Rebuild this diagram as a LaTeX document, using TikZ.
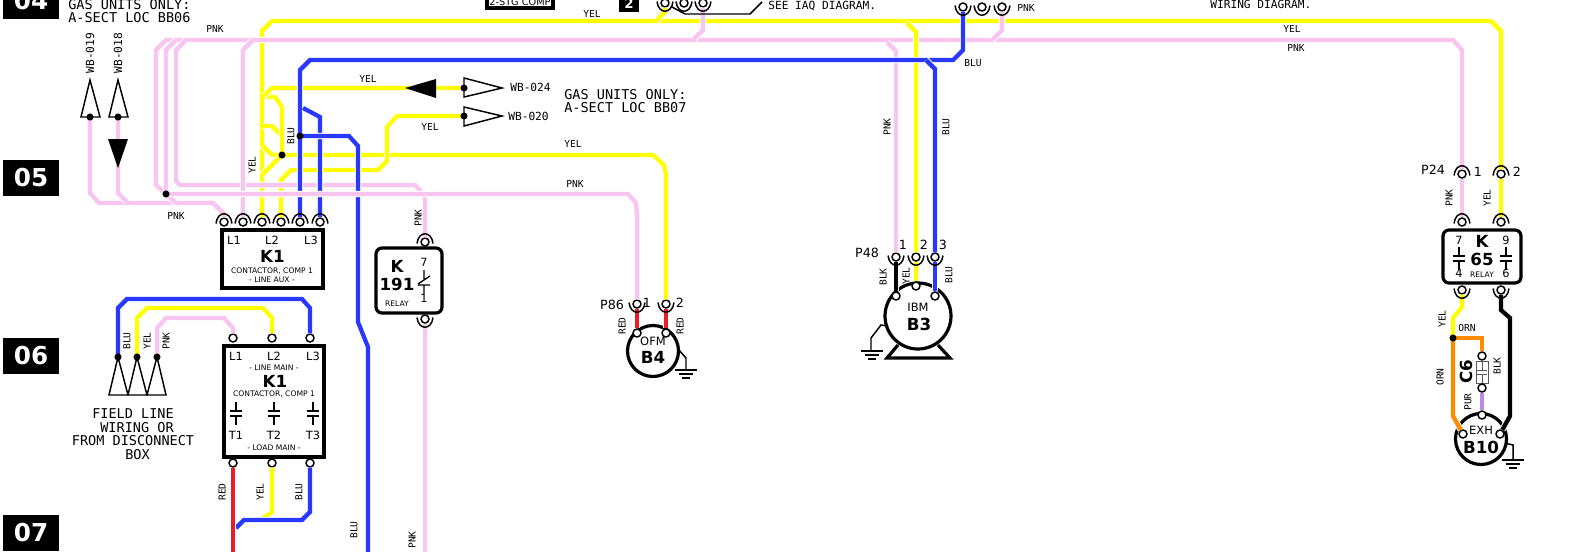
\documentclass[tikz,border=0pt]{standalone}
\usepackage{fontspec}
\setmainfont{DejaVu Sans}
\setmonofont{DejaVu Sans Mono}

\definecolor{pnkw}{RGB}{248,196,240}
\definecolor{ylww}{RGB}{255,255,0}
\definecolor{bluw}{RGB}{40,56,255}
\definecolor{redw}{RGB}{238,28,37}
\definecolor{ornw}{RGB}{255,140,0}
\definecolor{purw}{RGB}{190,135,240}

\tikzset{
  wire/.style={line width=3.2pt,miter limit=4,preaction={draw=white,line width=4.8pt}},
  term/.style={circle,draw,fill=white,line width=1.1pt,inner sep=0pt,minimum size=6pt},
  jdot/.style={circle,fill=black,inner sep=0pt,minimum size=5.3pt},
  plugline/.style={line width=1.1pt},
  tri/.style={line width=1.1pt,fill=white},
  devline/.style={line width=2.4pt},
  conline/.style={line width=1pt},
  wlab/.style={inner sep=0pt,font=\fontsize{7.2}{8}\selectfont\ttfamily},
  wlabv/.style={wlab,rotate=90},
  note/.style={inner sep=0pt,font=\fontsize{10.15}{11}\selectfont\ttfamily},
  notes/.style={inner sep=0pt,font=\fontsize{8.4}{9}\selectfont\ttfamily},
  pin/.style={inner sep=0pt,font=\fontsize{8.5}{9}\selectfont},
  plab/.style={inner sep=0pt,font=\fontsize{9.5}{10}\selectfont},
  tiny/.style={inner sep=0pt,font=\fontsize{5.7}{6}\selectfont},
  devname/.style={inner sep=0pt,font=\fontsize{12.5}{13}\selectfont\bfseries},
  motname/.style={inner sep=0pt,font=\fontsize{12.5}{13}\selectfont\bfseries},
  motlab/.style={inner sep=0pt,font=\fontsize{8.6}{9}\selectfont},
  secbox/.style={fill=black,text=white,inner sep=0pt,minimum width=42pt,minimum height=27pt,font=\fontsize{18.5}{20}\selectfont\bfseries},
}

\newcommand{\arctop}[2]{%
  \draw[plugline] (#1-8,#2+1.5) .. controls (#1-6.5,#2-11.5) and (#1+6.5,#2-11.5) .. (#1+8,#2+1.5);}
\newcommand{\arcbot}[2]{%
  \draw[plugline] (#1-8,#2-1.5) .. controls (#1-6.5,#2+11.5) and (#1+6.5,#2+11.5) .. (#1+8,#2-1.5);}
\newcommand{\gndsym}[2]{%
  \draw[plugline] (#1-11,#2) -- (#1+11,#2) (#1-7,#2+4) -- (#1+7,#2+4) (#1-4,#2+8) -- (#1+4,#2+8);}
\newcommand{\contact}[2]{%
  \draw[conline] (#1,#2-9) -- (#1,#2) (#1-6,#2) -- (#1+6,#2) (#1-6,#2+5) -- (#1+6,#2+5) (#1,#2+5) -- (#1,#2+14);}

\begin{document}
\begin{tikzpicture}[x=0.75pt,y=0.75pt,yscale=-1,xscale=1]
\useasboundingbox (0,0) rectangle (1578,551);

% Section tags
\node[secbox] (sec04) at (31,1) {04};
\node[secbox] (sec05) at (31,178) {05};
\node[secbox] (sec06) at (31,356) {06};
\node[secbox] (sec07) at (31,533) {07};

% Devices
\draw[devline] (222,230) rectangle (323,288);
\draw[devline] (224,346) rectangle (324,457);
\draw[devline,rounded corners=4.5pt] (376,248) rectangle (442,313);
\draw[devline,rounded corners=4.5pt] (1443,230) rectangle (1521,283);
\draw[devline] (653,351) circle[radius=25.5];
\draw[devline] (918,316) circle[radius=33];
\draw[devline] (1481,439) circle[radius=25.5];
\draw[devline] (898,345) -- (887,358) -- (950,358) -- (938,345);
\draw[devline] (487,-4) rectangle (553,8);
\fill (619,-2) rectangle (639,12);
\draw[devline] (949,-2) -- (1014,-2);

% Arrow shapes
\draw[tri] (90,80) -- (100,117) -- (81,117) -- cycle;
\draw[tri] (118,80) -- (128,117) -- (109,117) -- cycle;
\draw[tri] (464,78) -- (502,88) -- (464,97) -- cycle;
\draw[tri] (464,107) -- (502,116) -- (464,126) -- cycle;
\draw[tri] (118,357) -- (128,395) -- (109,395) -- cycle;
\draw[tri] (137,357) -- (147,395) -- (128,395) -- cycle;
\draw[tri] (157,357) -- (166,395) -- (147,395) -- cycle;

% Terminals
\foreach \n/\x in {a/224,b/243,c/262,d/281,e/300,f/320} {\node[term] (ka\n) at (\x,222) {};}
\foreach \n/\x in {a/665,b/684,c/703} {\node[term] (iaq\n) at (\x,3) {};}
\foreach \n/\x in {a/963,b/982,c/1002} {\node[term] (top\n) at (\x,7) {};}
\foreach \n/\x in {a/233,b/272,c/310} {
  \node[term] (kl\n) at (\x,338) {};
  \node[term] (kt\n) at (\x,463) {};
}
\node[term] (kra) at (425,242) {};
\node[term] (krb) at (425,319) {};
\node[term] (pea) at (637,304) {};
\node[term] (peb) at (666,304) {};
\node[term] (pfa) at (896,257) {};
\node[term] (pfb) at (916,257) {};
\node[term] (pfc) at (935,257) {};
\node[term] (pta) at (1462,174) {};
\node[term] (ptb) at (1501,174) {};
\node[term] (kqa) at (1462,222) {};
\node[term] (kqb) at (1501,222) {};
\node[term] (kqc) at (1462,290) {};
\node[term] (kqd) at (1501,290) {};
\node[term] (ofa) at (637,333) {};
\node[term] (ofb) at (666,333) {};
\node[term] (iba) at (896,296) {};
\node[term] (ibb) at (916,286) {};
\node[term] (ibc) at (935,296) {};
\node[term] (exa) at (1463,434) {};
\node[term] (exb) at (1482,415) {};
\node[term] (exc) at (1500,434) {};

% Junctions
\coordinate (jyl) at (282,155);
\coordinate (jbl) at (300,136);
\coordinate (jpk) at (166,194);
\coordinate (jor) at (1453,338);
\coordinate (wa) at (90,117);
\coordinate (wb) at (118,117);
\coordinate (wc) at (464,88);
\coordinate (wd) at (464,116);
\coordinate (fa) at (118,357);
\coordinate (fb) at (137,357);
\coordinate (fc) at (157,357);

% Capacitor
\draw[line width=0.7pt,draw=black!65] (1476,361) rectangle (1488,383);
\draw[line width=0.7pt,draw=black!65] (1482,361) -- (1482,370) (1477,370) -- (1487,370) (1477,374) -- (1487,374) (1482,374) -- (1482,383);
\node[term] (cpa) at (1482,356) {};
\node[term] (cpb) at (1482,388) {};

% Yellow wires
\draw[wire,ylww] (kac) -- (262,31) -- (272,21) -- (1491,21) -- (1501,31) -- (ptb);
\draw[wire,ylww] (262,126) -- (272,126) -- (282,136) -- (jyl);
\draw[wire,ylww] (262,145) -- (272,155) -- (jyl);
\draw[wire,ylww] (jyl) -- (262,175);
\draw[wire,ylww] (265,97) -- (275,97) -- (282,107) -- (jyl);
\draw[wire,ylww] (264,96) -- (272,88) -- (wc);
\draw[wire,ylww] (jyl) -- (653,155) -- (664,165) -- (666,175) -- (peb);
\draw[wire,ylww] (kad) -- (281,180) -- (291,170) -- (378,170) -- (387,161) -- (387,127) -- (397,116) -- (wd);
\draw[wire,ylww] (iaqa) -- (665,12) -- (656,21);

% Pink wires
\draw[wire,pnkw] (jpk) -- (156,185) -- (156,50) -- (166,40) -- (1453,40) -- (1462,50) -- (pta);
\draw[wire,pnkw] (jpk) -- (166,50) -- (176,40);
\draw[wire,pnkw] (iaqc) -- (703,30) -- (694,39);
\draw[wire,pnkw] (topc) -- (1002,30) -- (992,40);
\draw[wire,pnkw] (887,42) -- (896,51) -- (pfa);
\draw[wire,ylww] (907,23) -- (916,32) -- (pfb);
\draw[wire,pnkw] (wa) -- (90,193) -- (99,203) -- (213,203) -- (224,214) -- (kaa);
\draw[wire,pnkw] (wb) -- (118,193) -- (127,202);
\draw[wire,pnkw] (jpk) -- (176,203);
\draw[wire,pnkw] (kra) -- (425,196) -- (415,185) -- (180,185) -- (176,181) -- (176,50) -- (186,40);
\draw[wire,pnkw] (kab) -- (243,50) -- (253,40);

% Blue wires
\draw[wire,bluw] (kae) -- (300,70) -- (310,60) -- (953,60) -- (963,50) -- (topa);
\draw[wire,bluw] (926,60) -- (935,69) -- (pfc);
\draw[wire,bluw] (kaf) -- (320,117) -- (303,108);
\draw[wire,bluw] (jbl) -- (349,136) -- (358,146) -- (358,322) -- (368,347) -- (368,556);

% Pink over the blue
\draw[wire,pnkw] (jpk) -- (628,194) -- (636,203) -- (637,215) -- (pea);
\draw[wire,pnkw] (krb) -- (425,556);

% Field wiring
\draw[wire,bluw] (fa) -- (118,308) -- (127,299) -- (302,299) -- (310,308) -- (klc);
\draw[wire,ylww] (fb) -- (137,318) -- (147,308) -- (263,308) -- (272,318) -- (klb);
\draw[wire,pnkw] (fc) -- (157,328) -- (166,318) -- (224,318) -- (233,328) -- (kla);
\draw[wire,ylww] (ktb) -- (272,512) -- (263,518);
\draw[wire,bluw] (ktc) -- (310,512) -- (302,520) -- (244,520) -- (236,528);
\draw[wire,redw] (kta) -- (233,556);

% Motor leads
\draw[wire,redw] (pea) -- (ofa);
\draw[wire,redw] (peb) -- (ofb);
\draw[wire,black] (pfa) -- (iba);
\draw[wire,ylww] (pfb) -- (ibb);
\draw[wire,bluw] (pfc) -- (ibc);
\draw[wire,pnkw] (pta) -- (kqa);
\draw[wire,ylww] (ptb) -- (kqb);
\draw[wire,ylww] (kqc) -- (1462,307) -- (1453,318) -- (jor);
\draw[wire,ornw] (jor) -- (1482,338) -- (cpa);
\draw[wire,ornw] (jor) -- (1453,416) -- (exa);
\draw[wire,purw] (cpb) -- (exb);
\draw[wire,black] (kqd) -- (1501,310) -- (1510,318) -- (1510,416) -- (exc);

% Plug arcs
\foreach \x in {224,243,262,281,300,320} {\arctop{\x}{222}}
\foreach \x in {665,684,703} {\arcbot{\x}{3}}
\foreach \x in {963,982,1002} {\arcbot{\x}{7}}
\foreach \x in {637,666} {\arcbot{\x}{304}}
\foreach \x in {896,916,935} {\arcbot{\x}{257}}
\foreach \x in {1462,1501} {\arctop{\x}{174} \arctop{\x}{222} \arcbot{\x}{290}}
\arctop{425}{242}
\arcbot{425}{319}

% Dots
\node[jdot] (jyld) at (jyl) {};
\node[jdot] (jbld) at (jbl) {};
\node[jdot] (jpkd) at (jpk) {};
\node[jdot] (jord) at (jor) {};
\node[jdot] (wad) at (wa) {};
\node[jdot] (wbd) at (wb) {};
\node[jdot] (wcd) at (wc) {};
\node[jdot] (wdd) at (wd) {};
\node[jdot] (fad) at (fa) {};
\node[jdot] (fbd) at (fb) {};
\node[jdot] (fcd) at (fc) {};

% Black arrows
\fill (108,139) -- (128,139) -- (118,168) -- cycle;
\fill (405,88) -- (436,79) -- (436,98) -- cycle;

% IAQ bracket
\draw[plugline] (672,7) -- (685,14) -- (750,14) -- (762,2);

% Grounds
\draw[plugline] (678,349) -- (686,358) -- (686,370);
\gndsym{686}{370}
\draw[plugline] (888,326) -- (881,325) -- (871,338) -- (871,351);
\gndsym{872}{351}
\draw[plugline] (1505,443) -- (1513,445) -- (1513,460);
\gndsym{1513}{460}

% Contacts
\foreach \x in {236,274,313} {\contact{\x}{411}}
\contact{1459}{256}
\contact{1506}{256}
\draw[conline] (424,270) -- (424,279) (424,285) -- (424,294) (418,285) -- (430,285) (418,284) -- (430,276);

% Text Node
\node[note,anchor=west] (gasa) at (68,5) {GAS UNITS ONLY:};
\node[note,anchor=west] (gasb) at (68,18) {A-SECT LOC BB06};
\node[note,anchor=west] (gasc) at (564,95) {GAS UNITS ONLY:};
\node[note,anchor=west] (gasd) at (564,108) {A-SECT LOC BB07};
\node[notes,rotate=90] (wbn) at (90,53) {WB-019};
\node[notes,rotate=90] (wbm) at (118,53) {WB-018};
\node[notes,anchor=west] (wbp) at (510,87) {WB-024};
\node[notes,anchor=west] (wbq) at (508,116) {WB-020};
\node[notes,anchor=west] (seeq) at (768,6) {SEE IAQ DIAGRAM.};
\node[notes,anchor=west] (wird) at (1210,4) {WIRING DIAGRAM.};
\node[note] (fielda) at (133,414) {FIELD LINE};
\node[note] (fieldb) at (137,428) {WIRING OR};
\node[note] (fieldc) at (133,441) {FROM DISCONNECT};
\node[note] (fieldd) at (137.5,455) {BOX};

% Wire labels
\node[wlab] (l01) at (215,29) {PNK};
\node[wlab] (l02) at (176,216) {PNK};
\node[wlab] (l03) at (368,79) {YEL};
\node[wlab] (l04) at (430,127) {YEL};
\node[wlab] (l05) at (573,144) {YEL};
\node[wlab] (l06) at (575,184) {PNK};
\node[wlab] (l07) at (592,14) {YEL};
\node[wlab] (l08) at (973,63) {BLU};
\node[wlab] (l09) at (1026,8) {PNK};
\node[wlab] (l10) at (1292,29) {YEL};
\node[wlab] (l11) at (1296,48) {PNK};
\node[wlab] (l12) at (1467,328) {ORN};
\node[wlabv] (v01) at (252,165) {YEL};
\node[wlabv] (v02) at (291,136) {BLU};
\node[wlabv] (v03) at (418,218) {PNK};
\node[wlabv] (v04) at (887,127) {PNK};
\node[wlabv] (v05) at (946,127) {BLU};
\node[wlabv] (v06) at (127,341) {BLU};
\node[wlabv] (v07) at (147,341) {YEL};
\node[wlabv] (v08) at (166,341) {PNK};
\node[wlabv] (v09) at (222,492) {RED};
\node[wlabv] (v10) at (260,492) {YEL};
\node[wlabv] (v11) at (299,492) {BLU};
\node[wlabv] (v12) at (354,530) {BLU};
\node[wlabv] (v13) at (412,540) {PNK};
\node[wlabv] (v14) at (622,326) {RED};
\node[wlabv] (v15) at (680,326) {RED};
\node[wlabv] (v16) at (883,277) {BLK};
\node[wlabv] (v17) at (906,276) {YEL};
\node[wlabv] (v18) at (949,275) {BLU};
\node[wlabv] (v19) at (1449,198) {PNK};
\node[wlabv] (v20) at (1487,198) {YEL};
\node[wlabv] (v21) at (1442,319) {YEL};
\node[wlabv] (v22) at (1440,377) {ORN};
\node[wlabv] (v23) at (1468,402) {PUR};
\node[wlabv] (v24) at (1497,366) {BLK};

% K1 aux
\node[pin] (ka1) at (234,240) {L1};
\node[pin] (ka2) at (272,240) {L2};
\node[pin] (ka3) at (311,240) {L3};
\node[devname] (ka4) at (272.5,256) {K1};
\node[tiny] (ka5) at (272,271) {CONTACTOR, COMP 1};
\node[tiny] (ka6) at (272,280) {- LINE AUX -};

% K1 main
\node[pin] (km1) at (236,356) {L1};
\node[pin] (km2) at (274,356) {L2};
\node[pin] (km3) at (313,356) {L3};
\node[tiny] (km4) at (274,368) {- LINE MAIN -};
\node[devname] (km5) at (275,381) {K1};
\node[tiny] (km6) at (274,394) {CONTACTOR, COMP 1};
\node[pin] (km7) at (236,435) {T1};
\node[pin] (km8) at (274,435) {T2};
\node[pin] (km9) at (313,435) {T3};
\node[tiny] (km0) at (274,448) {- LOAD MAIN -};

% K191
\node[devname] (kr1) at (397,266) {K};
\node[devname] (kr2) at (397,284) {191};
\node[pin] (kr3) at (424,262) {7};
\node[pin] (kr4) at (424,298) {1};
\node[tiny] (kr5) at (397,304) {RELAY};

% K65
\node[pin] (kq1) at (1459,240) {7};
\node[devname] (kq2) at (1482,241) {K};
\node[pin] (kq3) at (1506,240) {9};
\node[devname] (kq4) at (1482,259) {65};
\node[pin] (kq5) at (1459,273) {4};
\node[tiny] (kq6) at (1482,275) {RELAY};
\node[pin] (kq7) at (1506,273) {6};

% Plug labels
\node[plab] (p1) at (612,305) {P86};
\node[plab] (p2) at (647,303) {1};
\node[plab] (p3) at (680,303) {2};
\node[plab] (p4) at (867,253) {P48};
\node[plab] (p5) at (903,245) {1};
\node[plab] (p6) at (924,245) {2};
\node[plab] (p7) at (943,245) {3};
\node[plab] (p8) at (1433,170) {P24};
\node[plab] (p9) at (1478,172) {1};
\node[plab] (p0) at (1517,172) {2};

% Motors
\node[motlab] (m1) at (653,341) {OFM};
\node[motname] (m2) at (653,357) {B4};
\node[motlab] (m3) at (918,307) {IBM};
\node[motname] (m4) at (919,324) {B3};
\node[motlab] (m5) at (1481,430) {EXH};
\node[motname] (m6) at (1481,447) {B10};
\node[inner sep=0pt,rotate=90,font=\fontsize{12.5}{13}\selectfont\bfseries] (c6) at (1466,372) {C6};

% Top boxes
\node[inner sep=0pt,font=\fontsize{7.3}{8}\selectfont] (stg) at (520,1.5) {2-STG COMP};
\node[inner sep=0pt,text=white,font=\fontsize{10}{11}\selectfont\bfseries] (stp) at (629,4) {2};
\end{tikzpicture}
\end{document}
